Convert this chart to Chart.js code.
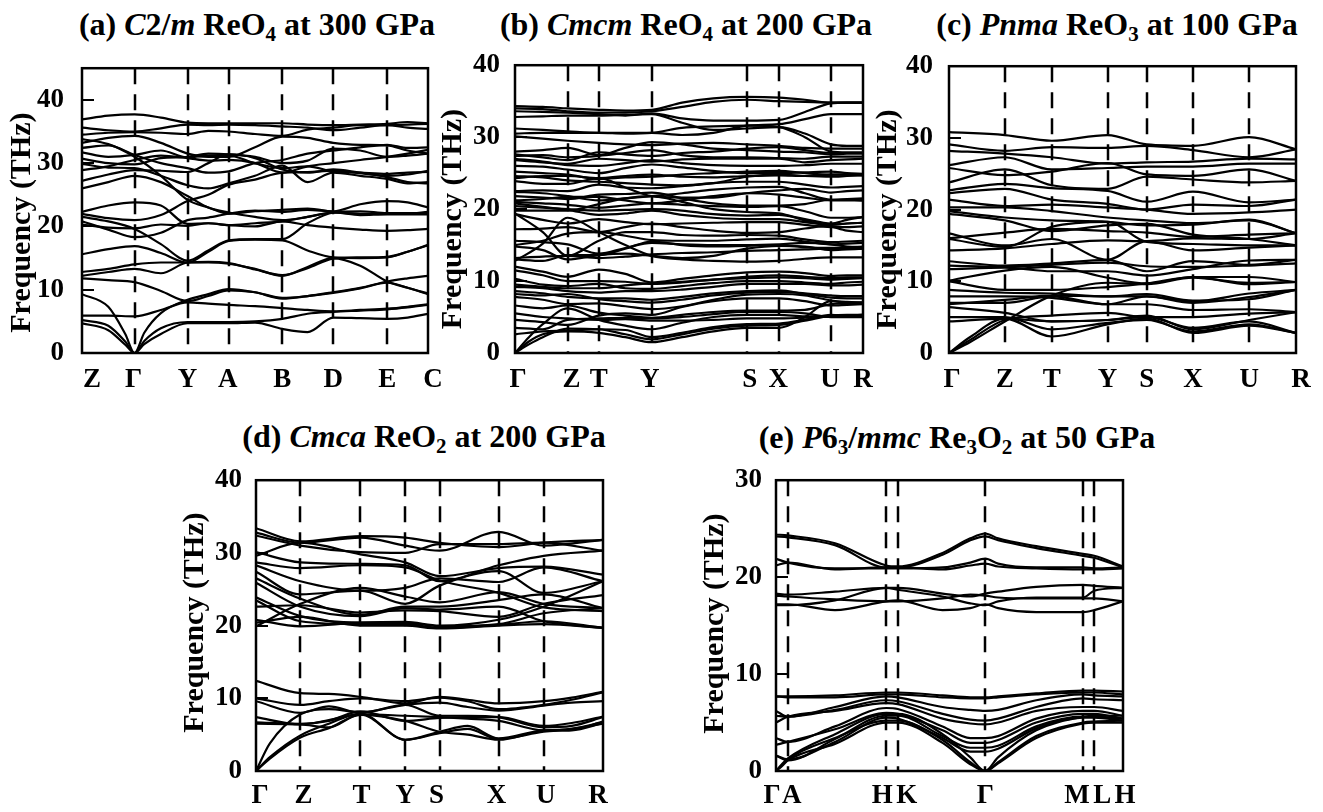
<!DOCTYPE html>
<html>
<head>
<meta charset="utf-8">
<script src="https://cdn.jsdelivr.net/npm/chart.js@4.4.0/dist/chart.umd.min.js"></script>
<style>
  body { margin: 0; background: #fff; width: 1323px; height: 812px; position: relative; overflow: hidden;
         font-family: "Liberation Serif", "Times New Roman", serif; }
  canvas { position: absolute; }
  .ttl { position: absolute; font-weight: bold; font-size: 32px; line-height: 32px; white-space: nowrap;
         transform: translateX(-50%); color: #000; }
  .ttl sub { font-size: 21px; vertical-align: -6px; line-height: 0; }
</style>
</head>
<body>
<div class="ttl" style="left:257px;top:8px">(a) <i>C</i>2/<i>m</i> ReO<sub>4</sub> at 300 GPa</div>
<div class="ttl" style="left:686px;top:8px">(b) <i>Cmcm</i> ReO<sub>4</sub> at 200 GPa</div>
<div class="ttl" style="left:1117px;top:8px">(c) <i>Pnma</i> ReO<sub>3</sub> at 100 GPa</div>
<div class="ttl" style="left:424px;top:420px">(d) <i>Cmca</i> ReO<sub>2</sub> at 200 GPa</div>
<div class="ttl" style="left:957px;top:421px">(e) <i>P</i>6<sub>3</sub>/<i>mmc</i> Re<sub>3</sub>O<sub>2</sub> at 50 GPa</div>

<canvas id="chartA" width="445" height="366" style="left:0px;top:34px"></canvas>
<canvas id="chartB" width="445" height="366" style="left:430px;top:34px"></canvas>
<canvas id="chartC" width="457" height="366" style="left:866px;top:34px"></canvas>
<canvas id="chartD" width="442" height="362" style="left:173px;top:450px"></canvas>
<canvas id="chartE" width="447" height="362" style="left:693px;top:450px"></canvas>

<script>
// ---------------------------------------------
// Phonon dispersion data (THz)
// ---------------------------------------------
const n = null;

// (a) C2/m ReO4 at 300 GPa
const kPosA = [0, 0.152, 0.305, 0.424, 0.579, 0.726, 0.882, 1];
const kLabelsA = ['Z', 'Γ', 'Y', 'A', 'B', 'D', 'E', 'C'];
const pathA = [0, 0.076, 0.125, 0.152, 0.18, 0.228, 0.305, 0.365, 0.424, 0.50, 0.579, 0.652, 0.726, 0.804, 0.882, 0.941, 1];
const bandsA = [
  [4.7, 3.6, 1.3, 0, 1.4, 3.0, 4.7, 4.7, 4.7, 4.8, 3.8, 3.3, 5.6, 5.5, 5.4, 5.6, 6.2],
  [5.2, 4.3, 1.8, 0, 1.9, 3.9, 4.9, 4.9, 4.9, 5.0, 5.4, 6.2, 6.5, 6.7, 6.9, 7.2, 7.6],
  [9.3, 7.3, 3.0, 0, 3.2, 6.3, 8.4, 9.3, 10.1, 9.6, 8.6, 9.0, 9.6, 10.3, 11.3, 11.8, 12.2],
  [5.9, 5.9, n, 5.8, n, 6.8, 8.0, 7.8, 7.6, 7.4, 7.1, 6.8, 6.6, 6.8, 7.0, 7.3, 7.7],
  [11.8, 11.5, n, 11.2, n, 9.8, 8.2, 9.0, 9.9, 9.6, 8.7, 9.0, 9.5, 10.2, 11.1, 10.3, 9.3],
  [12.8, 13.3, n, 14.0, n, 14.3, 14.3, 14.3, 14.1, 13.3, 12.2, 13.6, 15.0, 13.8, 11.3, 10.3, 9.4],
  [15.6, 16.4, n, 16.9, n, 15.8, 14.3, 16.0, 17.7, 17.9, 17.8, 16.2, 15.1, 15.0, 15.1, 16.0, 17.0],
  [12.2, 12.8, n, 13.3, n, 12.6, 14.3, 14.4, 14.2, 13.2, 12.3, 13.4, 14.9, 15.1, 15.2, 16.0, 17.1],
  [21.5, 20.8, n, 19.6, n, 17.2, 14.6, 16.2, 17.8, 18.0, 18.0, 20.5, 22.2, 22.4, 22.1, 22.1, 22.1],
  [20.3, 19.8, n, 19.7, n, 20.3, 20.1, 20.5, 20.2, 20.5, 20.8, 21.5, 22.2, 21.8, 21.9, 21.9, 21.9],
  [20.8, 19.5, n, 18.3, n, 19.0, 21.0, 21.4, 22.0, 22.5, 22.3, 22.6, 22.4, 23.5, 24.0, 23.8, 23.0],
  [22.3, 23.3, n, 23.8, n, 23.3, 20.4, 20.5, 20.2, 20.0, 20.8, 20.2, 19.8, 19.5, 19.3, 19.4, 19.6],
  [22.0, 21.3, n, 21.0, n, 21.8, 24.0, 25.0, 26.6, 27.4, 28.5, 28.6, 28.8, 28.4, 27.8, 27.0, 26.8],
  [26.0, 27.0, n, 28.0, n, 27.0, 24.8, 23.0, 22.2, 21.5, 21.0, 21.5, 22.2, 22.0, 22.0, 22.0, 22.3],
  [27.2, 28.2, n, 28.9, n, 28.8, 28.6, 30.0, 31.4, 30.8, 29.0, 28.5, 29.0, 28.5, 28.0, 28.2, 28.8],
  [33.8, 33.0, n, 31.0, n, 28.0, 24.2, 23.0, 22.0, 22.4, 22.6, 22.8, 22.3, 22.0, 22.0, 22.0, 22.1],
  [36.9, 37.5, n, 37.7, n, 37.2, 36.4, 36.3, 36.3, 36.3, 36.3, 36.1, 36.0, 36.1, 36.2, 36.5, 36.3],
  [35.6, 35.2, n, 35.0, n, 35.5, 36.1, 36.0, 36.1, 36.0, 35.8, 35.6, 35.2, 35.6, 36.0, 35.6, 35.4],
  [34.5, 34.8, n, 34.9, n, 34.8, 34.6, 35.1, 35.0, 34.6, 34.3, 35.3, 35.6, 36.0, 36.0, 36.1, 36.2],
  [33.2, 34.0, n, 34.3, n, 33.2, 31.5, 31.0, 31.0, 32.5, 34.2, 34.0, 33.2, 32.9, 32.8, 32.0, 31.5],
  [32.4, 32.8, n, 31.3, n, 30.0, 29.2, 28.5, 28.7, 30.0, 30.5, 31.5, 32.0, 32.5, 32.9, 32.4, 32.5],
  [31.7, 31.0, n, 31.3, n, 32.0, 30.9, 31.2, 31.2, 30.0, 29.2, 29.5, 28.7, 28.5, 28.3, 28.5, 28.6],
  [30.7, 30.0, n, 29.8, n, 30.8, 31.0, 31.5, 31.4, 31.0, 30.0, 30.4, 32.3, 32.0, 31.0, 31.2, 31.5],
  [29.9, 29.3, n, 29.2, n, 28.0, 26.5, 26.0, 26.8, 28.0, 29.6, 27.0, 28.5, 28.0, 27.5, 26.8, 27.0],
  [28.9, 29.5, n, 30.5, n, 31.2, 30.8, 30.4, 30.5, 30.0, 28.5, 29.5, 30.0, 30.5, 31.0, 31.5, 32.1]
];

// (b) Cmcm ReO4 at 200 GPa
const kPosB = [0, 0.151, 0.241, 0.393, 0.666, 0.759, 0.908, 1];
const kLabelsB = ['Γ', 'Z', 'T', 'Y', 'S', 'X', 'U', 'R'];
const pathB = [0, 0.04, 0.08, 0.151, 0.241, 0.317, 0.393, 0.48, 0.57, 0.666, 0.759, 0.833, 0.908, 0.954, 1];
const bandsB = [
  [34.3, n, 34.2, 34.0, 33.8, 33.7, 33.8, 34.8, 35.4, 35.6, 35.5, 35.2, 34.8, 34.8, 34.8],
  [34.0, n, 33.9, 33.6, 33.4, 33.4, 33.6, 34.2, 34.9, 35.2, 35.0, 34.9, 34.8, 34.8, 34.8],
  [33.6, n, 33.5, 33.4, 33.2, 33.0, 33.3, 32.6, 32.3, 32.3, 32.4, 33.5, 34.7, 34.8, 34.8],
  [32.8, n, 32.9, 33.0, 33.0, 33.1, 33.2, 32.0, 31.0, 31.2, 31.4, 30.5, 29.0, 28.8, 28.8],
  [31.2, n, 31.0, 30.8, 30.6, 30.6, 30.6, 30.3, 30.6, 31.6, 31.8, 32.5, 33.2, 33.2, 33.2],
  [30.5, n, 30.6, 30.6, 30.6, 30.5, 30.6, 31.3, 31.5, 31.6, 31.4, 30.0, 28.0, 27.9, 27.9],
  [30.1, n, 29.8, 29.5, 29.2, 29.0, 28.9, 29.1, 29.2, 29.0, 28.8, 28.5, 28.4, 28.4, 28.4],
  [28.0, n, 28.2, 28.5, 27.5, 28.5, 29.3, 29.0, 28.4, 28.2, 28.0, 27.9, 27.6, 27.7, 27.7],
  [27.4, n, 27.5, 27.2, 27.4, 27.8, 28.2, 27.5, 27.2, 27.2, 27.1, 27.0, 27.3, 27.3, 27.3],
  [26.8, n, 26.5, 26.3, 27.0, 26.8, 26.6, 26.9, 27.0, 27.0, 27.0, 26.5, 26.8, 26.9, 27.0],
  [26.0, n, 25.9, 25.5, 25.0, 25.7, 26.2, 25.8, 25.3, 25.0, 25.0, 25.1, 25.2, 25.0, 24.9],
  [25.2, n, 25.0, 24.8, 24.2, 24.4, 24.5, 24.8, 25.0, 25.2, 25.3, 25.0, 24.8, 24.8, 24.7],
  [24.6, n, 24.4, 24.0, 23.8, 23.6, 23.4, 23.3, 23.6, 24.5, 24.8, 24.6, 24.5, 24.6, 24.7],
  [23.9, n, 23.5, 23.5, 24.3, 23.0, 21.8, 21.6, 21.6, 22.2, 22.6, 22.8, 22.3, 22.5, 22.6],
  [22.4, n, 22.2, 21.8, 21.2, 21.5, 21.8, 22.2, 22.7, 23.0, 23.1, 22.2, 21.3, 21.4, 21.5],
  [21.8, n, 21.6, 21.4, 22.0, 22.1, 22.3, 21.5, 20.8, 20.5, 20.5, 20.7, 21.3, 21.3, 21.2],
  [21.0, n, 20.8, 20.6, 20.2, 20.5, 20.8, 20.6, 20.4, 20.3, 20.4, 19.7, 18.8, 18.8, 18.9],
  [20.4, n, 20.2, 20.0, 19.8, 19.9, 20.0, 19.8, 19.3, 19.1, 19.2, 18.6, 18.0, 18.5, 18.9],
  [19.8, n, 19.8, 19.8, 20.7, 21.5, 21.8, 21.0, 20.0, 19.6, 19.4, 18.4, 17.6, 17.0, 16.8],
  [19.3, n, 18.5, 18.0, 18.6, 18.2, 17.9, 18.0, 18.1, 18.2, 18.2, 17.8, 17.5, 17.5, 17.6],
  [17.2, n, 17.3, 17.5, 16.8, 17.5, 18.0, 17.5, 17.0, 16.7, 16.8, 17.3, 17.8, 18.0, 18.1],
  [19.4, n, 16.8, 13.5, 15.6, 16.8, 16.8, 16.4, 16.3, 16.4, 16.3, 15.8, 15.4, 15.5, 15.6],
  [15.6, n, 15.4, 15.1, 13.8, 14.6, 15.3, 15.1, 15.0, 15.0, 15.1, 15.3, 15.1, 14.8, 14.7],
  [14.8, n, 14.3, 13.0, 13.6, 13.8, 13.5, 13.2, 13.5, 14.5, 14.9, 14.8, 14.3, 14.4, 14.5],
  [12.8, n, 15.2, 18.8, 16.8, 15.0, 13.5, 13.0, 12.8, 12.7, 12.8, 13.1, 13.3, 13.3, 13.3],
  [13.0, n, 12.8, 13.6, 13.6, 14.5, 15.5, 15.0, 14.8, 14.9, 15.0, 14.7, 14.6, 14.7, 14.8],
  [12.0, n, 11.3, 10.6, 11.6, 11.0, 9.8, 10.3, 10.8, 11.2, 11.3, 11.1, 10.7, 10.8, 10.8],
  [11.5, n, 10.8, 10.0, 10.0, 9.9, 9.6, 9.8, 10.2, 10.6, 10.8, 10.6, 10.4, 10.5, 10.5],
  [10.3, n, 9.5, 9.3, 9.6, 9.0, 8.9, 9.3, 9.7, 10.0, 10.0, 9.8, 9.6, 9.8, 9.9],
  [9.2, n, 9.0, 8.6, 8.4, 8.6, 8.6, 8.8, 9.2, 9.6, 9.6, 9.6, 9.4, 9.4, 9.5],
  [8.6, n, 8.3, 7.8, 7.6, 7.6, 7.4, 7.8, 8.3, 8.6, 8.7, 8.2, 7.7, 7.6, 7.6],
  [7.8, n, 7.4, 6.8, 6.9, 6.5, 6.1, 6.5, 7.4, 8.1, 8.2, 8.0, 7.3, 7.1, 7.0],
  [6.6, n, 6.2, 6.6, 5.6, 5.2, 4.9, 5.3, 5.7, 5.9, 5.9, 6.0, 6.8, 6.9, 7.0],
  [5.5, n, 5.0, 4.8, 4.6, 4.7, 4.5, 4.5, 4.6, 4.8, 4.8, 4.9, 5.1, 5.2, 5.3],
  [4.6, n, 4.3, 3.9, 5.2, 5.5, 5.3, 6.4, 7.2, 7.6, 7.6, 7.2, 6.6, 6.7, 6.8],
  [0, 1.6, 2.6, 3.0, 2.8, 2.2, 1.5, 2.2, 3.0, 3.5, 3.5, 5.0, 7.2, 7.0, 7.0],
  [0, 1.2, 2.2, 3.4, 3.3, 2.6, 1.9, 2.6, 3.4, 3.8, 3.9, 4.5, 5.2, 5.3, 5.3],
  [0, 2.2, 4.0, 6.2, 4.6, 3.8, 3.3, 4.2, 5.0, 5.3, 5.3, 5.1, 5.1, 5.2, 5.3],
  [27.6, n, 27.2, 26.8, 27.9, 27.6, 27.4, 27.8, 28.0, 28.4, 28.6, 28.2, 27.8, 27.8, 27.8],
  [27.0, n, 26.6, 26.1, 26.0, 26.4, 26.8, 26.4, 26.1, 26.0, 26.0, 26.1, 26.3, 26.3, 26.3],
  [24.3, n, 24.6, 24.6, 24.3, 24.6, 24.8, 24.5, 24.4, 24.6, 24.7, 24.6, 24.8, 24.8, 24.8],
  [22.5, n, 22.6, 22.5, 23.4, 23.0, 22.9, 23.2, 23.6, 23.8, 23.8, 23.4, 23.0, 23.1, 23.2],
  [21.2, n, 21.4, 21.7, 21.7, 21.2, 20.8, 21.2, 21.8, 22.2, 22.0, 21.6, 21.2, 21.2, 21.2],
  [20.8, n, 20.3, 19.9, 19.2, 19.4, 19.8, 19.2, 18.8, 18.6, 18.6, 18.2, 17.8, 18.0, 18.1],
  [15.0, n, 15.6, 16.6, 16.8, 16.3, 15.7, 15.6, 15.6, 15.8, 15.9, 15.5, 15.1, 15.2, 15.3],
  [13.2, n, 13.4, 13.5, 13.2, 13.4, 13.7, 13.9, 14.0, 14.2, 14.3, 14.4, 14.5, 14.5, 14.5],
  [9.5, n, 9.2, 9.0, 9.0, 9.4, 9.7, 9.9, 10.2, 10.4, 10.5, 10.4, 10.2, 10.3, 10.4],
  [8.2, n, 8.0, 8.2, 7.5, 7.2, 7.0, 7.4, 8.0, 8.4, 8.5, 8.3, 8.0, 7.9, 7.9],
  [3.5, n, 3.3, 4.6, 4.8, 4.9, 4.8, 5.0, 5.4, 5.7, 5.7, 5.5, 5.0, 5.0, 5.0],
  [2.6, n, 3.0, 3.1, 3.3, 3.2, 2.2, 2.8, 3.6, 4.0, 4.1, 4.6, 5.3, 5.2, 5.2]
];

// (c) Pnma ReO3 at 100 GPa
const kPosC = [0, 0.161, 0.296, 0.457, 0.570, 0.703, 0.865, 1];
const kLabelsC = ['Γ', 'Z', 'T', 'Y', 'S', 'X', 'U', 'R'];
const pathC = [0, 0.06, 0.161, 0.296, 0.457, 0.570, 0.703, 0.865, 1];
const bandsC = [
  [30.8, n, 30.4, 29.6, 30.4, 29.1, 28.9, 30.1, 28.4],
  [29.1, n, 28.2, 28.7, 28.6, 28.9, 28.3, 27.3, 28.4],
  [28.2, n, 27.8, 27.3, 26.4, 26.6, 26.7, 27.1, 27.0],
  [26.2, n, 27.3, 25.6, 25.8, 26.0, 26.0, 26.4, 26.4],
  [25.8, n, 24.8, 25.3, 26.5, 24.9, 24.7, 25.6, 24.0],
  [23.8, n, 25.6, 23.4, 22.9, 24.6, 24.2, 23.8, 24.0],
  [22.7, n, 23.6, 23.0, 22.6, 21.1, 22.5, 21.0, 21.4],
  [22.3, n, 22.9, 21.4, 20.8, 20.0, 20.7, 20.5, 21.4],
  [21.4, n, 20.5, 20.7, 20.3, 20.0, 19.4, 19.6, 20.0],
  [20.3, n, 20.3, 19.8, 18.9, 18.5, 18.1, 18.5, 16.7],
  [19.8, n, 18.9, 18.5, 18.3, 17.8, 17.9, 18.6, 16.7],
  [19.4, n, 18.5, 17.0, 17.8, 18.0, 16.5, 15.9, 15.0],
  [16.7, n, 15.0, 15.9, 13.0, 15.6, 14.3, 14.7, 15.0],
  [15.9, n, 14.8, 17.6, 18.3, 15.5, 15.2, 15.0, 15.0],
  [14.3, n, 14.6, 15.2, 15.7, 15.6, 16.0, 15.9, 16.7],
  [12.8, n, 12.2, 12.5, 13.0, 11.4, 12.8, 12.3, 13.0],
  [11.7, n, 11.9, 11.4, 11.4, 10.8, 11.7, 12.9, 13.0],
  [10.1, n, 11.5, 12.0, 10.5, 9.7, 10.6, 10.6, 9.9],
  [10.0, n, 8.8, 8.8, 9.2, 9.7, 10.6, 9.6, 9.9],
  [8.8, n, 8.4, 8.3, 7.9, 7.9, 7.2, 8.3, 8.8],
  [7.9, n, 7.9, 7.7, 6.8, 7.9, 7.0, 7.8, 8.8],
  [7.0, n, 7.0, 7.9, 6.8, 6.8, 6.0, 6.1, 5.7],
  [6.4, n, 5.6, 4.4, 4.6, 5.0, 3.5, 4.4, 2.8],
  [5.0, n, 5.0, 3.3, 4.2, 4.6, 3.0, 4.0, 2.8],
  [4.4, n, 4.8, 2.3, 4.0, 4.8, 2.8, 3.8, 2.8],
  [0, 2.2, 4.8, 4.4, 4.6, 5.2, 3.3, 4.6, 5.7],
  [0, 1.8, 4.6, 5.2, 5.6, 5.0, 5.0, 5.5, 5.7],
  [0, 1.5, 4.4, 8.0, 9.8, 9.6, 10.5, 9.8, 9.9],
  [16.0, n, 16.8, 17.3, 17.0, 16.8, 16.2, 16.5, 16.7],
  [12.2, n, 12.0, 12.3, 12.6, 12.1, 12.0, 12.2, 12.5],
  [6.8, n, 7.4, 8.0, 7.9, 8.2, 7.3, 7.5, 8.8]
];

// (d) Cmca ReO2 at 200 GPa
const kPosD = [0, 0.128, 0.301, 0.430, 0.529, 0.699, 0.829, 1];
const kLabelsD = ['Γ', 'Z', 'T', 'Y', 'S', 'X', 'U', 'R'];
const pathD = [0, 0.04, 0.128, 0.21, 0.301, 0.430, 0.529, 0.61, 0.699, 0.829, 0.91, 1];
const bandsD = [
  [33.4, n, 31.6, n, 32.3, 32.1, 31.4, n, 30.8, 31.4, n, 31.8],
  [32.8, n, 31.4, n, 32.1, 31.0, 30.3, n, 32.9, 31.0, n, 31.8],
  [32.4, n, 31.0, n, 30.1, 30.0, 31.2, n, 31.2, 31.4, n, 30.3],
  [30.1, n, 28.7, n, 28.5, 28.3, 26.1, n, 28.3, 29.6, n, 30.3],
  [29.6, n, 31.4, n, 29.8, 28.7, 26.8, n, 27.9, 28.1, n, 27.0],
  [28.7, n, 27.9, n, 28.3, 28.0, 26.2, n, 24.5, 22.5, n, 22.0],
  [28.3, n, 26.1, n, 24.8, 25.2, 26.5, n, 26.0, 28.0, n, 26.1],
  [27.4, n, 24.3, n, 24.8, 23.0, 25.5, n, 27.5, 24.5, n, 26.1],
  [26.5, n, 23.7, n, 21.5, 22.6, 22.6, n, 23.5, 24.3, n, 22.4],
  [25.9, n, 22.6, n, 21.3, 22.4, 22.2, n, 22.6, 20.6, n, 19.7],
  [23.9, n, 21.3, n, 20.4, 20.4, 19.9, n, 20.2, 21.7, n, 22.4],
  [23.5, n, 20.6, n, 20.2, 20.2, 19.7, n, 20.1, 20.6, n, 19.7],
  [22.6, n, 22.8, n, 21.8, 22.1, 22.0, n, 21.2, 23.0, n, 24.2],
  [20.8, n, 19.9, n, 20.4, 20.5, 20.0, n, 20.8, 22.6, n, 26.1],
  [20.4, n, 21.2, n, 20.0, 20.0, 19.6, n, 20.0, 20.2, n, 19.7],
  [19.9, n, 23.0, n, 25.2, 24.0, 23.2, n, 24.6, 23.0, n, 22.4],
  [12.4, n, 10.7, 10.6, 10.2, 9.3, 10.2, 9.8, 9.3, 9.6, 10.1, 10.9],
  [10.0, n, 9.1, 9.6, 10.0, 9.6, 10.1, 9.6, 8.5, 9.1, 9.8, 10.8],
  [9.6, n, 8.0, 8.9, 8.0, 9.1, 7.6, 7.6, 7.4, 6.0, 6.2, 7.4],
  [7.4, n, 6.4, 7.0, 7.8, 7.6, 7.4, 7.2, 6.9, 5.6, 5.8, 6.7],
  [6.7, n, 6.5, 6.9, 8.2, 6.9, 7.3, 7.4, 7.4, 6.2, 6.6, 7.5],
  [6.5, n, 6.4, 6.0, 7.8, 4.3, 5.4, 6.2, 4.5, 5.6, 5.7, 6.8],
  [0, 3.8, 7.8, 8.5, 8.1, 9.1, 9.4, 8.8, 8.3, 9.0, 9.4, 9.6],
  [0, 1.9, 4.9, 6.5, 7.9, 4.3, 5.2, 5.8, 4.4, 5.4, 5.8, 6.5],
  [0, 1.7, 4.6, 5.9, 7.7, 6.9, 5.4, 5.0, 4.3, 5.5, 5.6, 6.6]
];

// (e) P63/mmc Re3O2 at 50 GPa
const kPosE = [0, 0.034, 0.318, 0.351, 0.603, 0.885, 0.917, 1];
const kLabelsE = ['Γ', 'A', 'H', 'K', 'Γ', 'M', 'L', 'H'];
const pathE = [0, 0.017, 0.034, 0.17, 0.318, 0.351, 0.48, 0.56, 0.603, 0.64, 0.75, 0.885, 0.917, 1];
const bandsE = [
  [24.4, n, 24.3, 23.5, 21.2, 21.1, 22.5, 24.0, 24.5, 24.0, 23.2, 22.4, 22.2, 21.1],
  [24.2, n, 24.1, 23.3, 21.0, 21.0, 22.3, 23.8, 24.2, 23.8, 23.0, 22.2, 22.0, 21.0],
  [21.9, n, 21.5, 20.9, 20.9, 20.9, 21.0, 21.5, 21.9, 21.4, 21.0, 21.0, 20.9, 21.0],
  [21.2, n, 21.5, 20.8, 21.0, 21.0, 20.8, 21.2, 21.4, 21.1, 20.9, 20.8, 20.8, 20.9],
  [18.3, n, 18.2, 18.5, 18.9, 18.9, 18.3, 18.0, 18.3, 18.5, 19.0, 19.2, 19.1, 18.9],
  [18.1, n, 18.0, 17.7, 17.5, 17.5, 17.8, 18.2, 18.1, 17.9, 17.8, 17.8, 17.8, 17.5],
  [17.2, n, 17.2, 16.6, 17.5, 17.6, 16.6, 16.8, 17.2, 16.8, 16.4, 16.4, 16.6, 17.5],
  [17.1, n, 17.1, 17.6, 18.9, 18.7, 18.0, 17.3, 17.1, 17.5, 17.9, 17.9, 18.6, 18.9],
  [7.7, n, 7.7, 7.8, 8.1, 8.1, 7.8, 7.6, 7.6, 7.7, 8.0, 8.3, 8.3, 8.2],
  [7.7, n, 7.6, 7.6, 7.9, 7.9, 7.6, 7.5, 7.5, 7.6, 7.9, 8.1, 8.1, 7.9],
  [6.2, n, 5.6, 6.6, 7.7, 7.6, 6.6, 6.3, 6.2, 6.3, 7.3, 7.9, 7.8, 7.7],
  [5.7, n, 5.6, 6.3, 7.3, 7.2, 5.9, 5.3, 5.2, 5.4, 6.6, 7.5, 7.4, 7.3],
  [5.0, n, 5.6, 6.2, 7.0, 6.9, 5.4, 4.9, 4.8, 5.0, 6.2, 6.6, 6.6, 6.2],
  [3.4, n, 3.0, 4.6, 6.5, 6.4, 4.6, 3.4, 3.4, 3.6, 5.4, 6.2, 6.2, 5.7],
  [2.7, n, 3.0, 4.3, 6.0, 5.9, 4.2, 2.9, 2.9, 3.2, 5.0, 5.9, 5.9, 5.4],
  [1.6, n, 1.1, 3.3, 5.7, 5.7, 3.6, 2.4, 2.4, 2.6, 4.6, 5.6, 5.6, 5.4],
  [1.6, n, 1.2, 3.0, 5.5, 5.4, 3.4, 2.0, 2.0, 2.3, 4.4, 5.5, 5.5, 5.2],
  [0, 0.7, 1.3, 3.8, 5.9, 5.9, 3.8, 1.4, 0, 1.4, 4.2, 5.6, 5.7, 5.7],
  [0, 0.6, 1.2, 3.4, 5.2, 5.2, 3.2, 0.9, 0, 0.9, 3.6, 5.0, 5.1, 5.2],
  [0, 0.5, 1.1, 2.8, 5.0, 5.0, 2.9, 0.7, 0, 0.8, 3.4, 4.9, 5.0, 5.0]
];

const yTicks40 = [0, 10, 20, 30, 40];
const yTicks30 = [0, 10, 20, 30];

// ---------------------------------------------
// Drawing helpers
// ---------------------------------------------
const SERIF = '"Liberation Serif", "Times New Roman", serif';

const framePlugin = {
  id: 'frame',
  beforeDatasetsDraw(chart, args, opts) {
    const { ctx, chartArea: a, scales: { x } } = chart;
    ctx.save();
    ctx.strokeStyle = '#000';
    ctx.lineWidth = 2.5;
    ctx.setLineDash([16, 10]);
    opts.kpos.slice(1, -1).forEach(k => {
      const px = Math.round(x.getPixelForValue(k));
      ctx.beginPath();
      ctx.moveTo(px, a.top);
      ctx.lineTo(px, a.bottom);
      ctx.stroke();
    });
    ctx.restore();
  },
  afterDatasetsDraw(chart, args, opts) {
    const { ctx, chartArea: a, scales: { x, y } } = chart;
    ctx.save();
    ctx.strokeStyle = '#000';
    ctx.lineWidth = 2.5;
    ctx.strokeRect(a.left, a.top, a.right - a.left, a.bottom - a.top);

    // inward ticks on the left edge
    ctx.lineWidth = 2;
    opts.yticks.forEach(v => {
      const py = Math.round(y.getPixelForValue(v));
      ctx.beginPath();
      ctx.moveTo(a.left, py);
      ctx.lineTo(a.left + 12, py);
      ctx.stroke();
    });

    // high-symmetry point labels
    ctx.fillStyle = '#000';
    ctx.font = 'bold 27px ' + SERIF;
    ctx.textAlign = 'center';
    ctx.textBaseline = 'alphabetic';
    opts.kpos.forEach((k, i) => {
      ctx.fillText(opts.labels[i], x.getPixelForValue(k) + (opts.shift[i] || 0), a.bottom + opts.drop);
    });

    // y axis title
    ctx.font = 'bold 30px ' + SERIF;
    ctx.textBaseline = 'middle';
    ctx.translate(opts.titleX, (a.top + a.bottom) / 2 + opts.titleDy);
    ctx.rotate(-Math.PI / 2);
    ctx.fillText('Frequency (THz)', 0, 0);
    ctx.restore();
  }
};

function makeSets(path, bands) {
  return bands.map(b => ({
    data: path.map((x, i) => ({ x, y: b[i] })).filter(p => p.y !== null),
    borderColor: '#000',
    borderWidth: 2.2,
    pointRadius: 0,
    fill: false,
    cubicInterpolationMode: 'monotone'
  }));
}

function drawPanel(id, cfg) {
  new Chart(document.getElementById(id), {
    type: 'line',
    data: { datasets: makeSets(cfg.path, cfg.bands) },
    plugins: [framePlugin],
    options: {
      responsive: false,
      animation: false,
      devicePixelRatio: 1,
      layout: { padding: cfg.pad },
      plugins: {
        legend: { display: false },
        tooltip: { enabled: false },
        frame: {
          kpos: cfg.kpos, labels: cfg.labels, shift: cfg.shift, drop: cfg.drop,
          yticks: cfg.yticks, titleX: cfg.titleX, titleDy: cfg.titleDy
        }
      },
      scales: {
        x: { type: 'linear', min: 0, max: 1, display: false },
        y: {
          min: 0, max: cfg.ymax,
          afterBuildTicks: s => { s.ticks = cfg.yticks.map(v => ({ value: v })); },
          afterFit: s => { s.width = cfg.yWidth; },
          grid: { display: false, drawTicks: false },
          border: { display: false },
          ticks: { color: '#000', padding: cfg.tickPad, font: { family: SERIF, weight: 'bold', size: 27 } }
        }
      }
    }
  });
}

drawPanel('chartA', {
  path: pathA, bands: bandsA, kpos: kPosA, labels: kLabelsA,
  shift: [10, -1, 0, -1, 0, 0, 0, 5], drop: 34,
  ymax: 45, yticks: yTicks40, yWidth: 82, tickPad: 18,
  pad: { top: 16, right: 17, bottom: 47, left: 0 }, titleX: 22, titleDy: 12
});
drawPanel('chartB', {
  path: pathB, bands: bandsB, kpos: kPosB, labels: kLabelsB,
  shift: [3, 4, 0, -2, 3, -1, -1, 0], drop: 34,
  ymax: 40, yticks: yTicks40, yWidth: 85, tickPad: 15,
  pad: { top: 18, right: 12, bottom: 47, left: 0 }, titleX: 23, titleDy: 10
});
drawPanel('chartC', {
  path: pathC, bands: bandsC, kpos: kPosC, labels: kLabelsC,
  shift: [3, 0, 0, 0, 0, 0, 0, 5], drop: 34,
  ymax: 40, yticks: yTicks40, yWidth: 83, tickPad: 16,
  pad: { top: 17, right: 27, bottom: 47, left: 0 }, titleX: 22, titleDy: 10
});
drawPanel('chartD', {
  path: pathD, bands: bandsD, kpos: kPosD, labels: kLabelsD,
  shift: [4, 3, 1, 0, -3, -2, 2, -5], drop: 32,
  ymax: 40, yticks: yTicks40, yWidth: 83, tickPad: 14,
  pad: { top: 18, right: 12, bottom: 41, left: 0 }, titleX: 22, titleDy: -3
});
drawPanel('chartE', {
  path: pathE, bands: bandsE, kpos: kPosE, labels: kLabelsE,
  shift: [-4, 4, -4, 9, 0, -6, 8, 2], drop: 32,
  ymax: 30, yticks: yTicks30, yWidth: 83, tickPad: 14,
  pad: { top: 18, right: 17, bottom: 41, left: 0 }, titleX: 22, titleDy: -2
});
</script>
</body>
</html>
